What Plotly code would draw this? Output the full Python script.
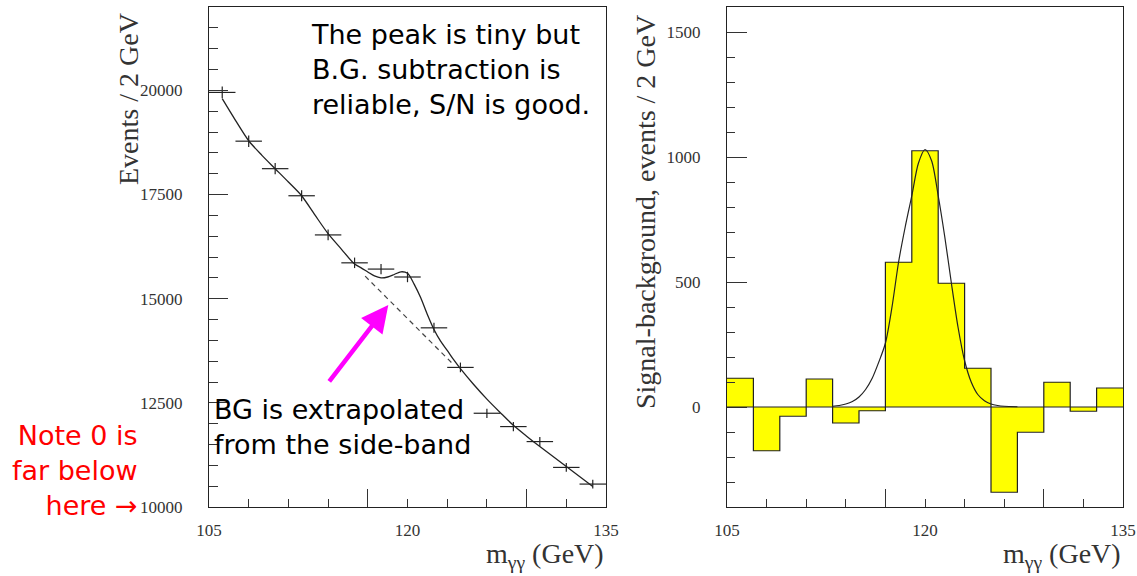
import plotly.graph_objects as go

# ---------------- data ----------------
# Left panel: diphoton mass spectrum, 2 GeV bins
mass_centers = [106, 108, 110, 112, 114, 116, 118, 120, 122, 124, 126, 128, 130, 132, 134]
bin_edges = [105, 107, 109, 111, 113, 115, 117, 119, 121, 123, 125, 127, 129, 131, 133, 135]
events = [19950, 18780, 18120, 17470, 16530, 15860, 15710, 15520, 14300, 13350, 12250, 11930, 11570, 10950, 10550]
events_err = [141, 137, 135, 132, 129, 126, 125, 125, 120, 116, 111, 109, 108, 105, 103]
bin_half_width = 1.0

# fitted signal + background curve (solid)
fit_x = [106, 107, 108, 109, 110, 111, 112, 113, 114, 115, 116, 116.5, 117, 117.5, 118, 118.5,
         119, 119.5, 120, 120.5, 121, 121.5, 122, 122.5, 123, 123.5, 124, 125, 126, 127, 128,
         129, 130, 131, 132, 133, 134]
fit_y = [19800, 19280, 18790, 18440, 18120, 17800, 17470, 17010, 16560, 16190, 15830, 15740,
         15640, 15545, 15500, 15520, 15580, 15645, 15610, 15350, 15020, 14620, 14260, 13980,
         13760, 13530, 13320, 12940, 12590, 12270, 11960, 11700, 11450, 11210, 10970, 10730, 10490]

# background extrapolated under the peak (dashed)
bg_x = [116.8, 118, 120, 122, 123.5]
bg_y = [15540, 15160, 14525, 13890, 13410]

# Right panel: signal - background histogram
sub_values = [115, -175, -37, 112, -64, -15, 579, 1025, 495, 155, -341, -101, 99, -17, 76]
# fitted gaussian of the signal
sig_x = [113, 113.5, 114, 114.5, 115, 115.5, 116, 116.5, 117, 117.5, 118, 118.5, 119, 119.5,
         120, 120.5, 121, 121.5, 122, 122.5, 123, 123.5, 124, 124.5, 125, 125.5, 126, 127]
sig_y = [3, 6, 12, 22, 40, 70, 115, 180, 255, 400, 580, 720, 845, 975, 1030, 985, 845, 680,
         495, 320, 185, 100, 50, 25, 12, 6, 3, 1]

# axis ticks
x_ticks = [105, 120, 135]
x_long_ticks = [117, 129]
left_y_ticks = [10000, 12500, 15000, 17500, 20000]
right_y_ticks = [0, 500, 1000, 1500]

W, H = 1137, 576
INK = "#222222"
SERIF = "Liberation Serif, Times New Roman, serif"
SANS = "DejaVu Sans, Verdana, sans-serif"


def px(xp):
    return xp / W


def py(yp):
    return 1 - yp / H


fig = go.Figure()

# data crosses
fig.add_trace(go.Scatter(
    x=mass_centers, y=events, mode="markers",
    marker=dict(size=1, color="rgba(0,0,0,0)"),
    error_x=dict(type="constant", value=bin_half_width, width=0, thickness=1.2, color=INK),
    error_y=dict(type="data", array=events_err, width=0, thickness=1.2, color=INK),
    xaxis="x", yaxis="y", showlegend=False, hoverinfo="skip"))

# fit curve
fig.add_trace(go.Scatter(
    x=fit_x, y=fit_y, mode="lines",
    line=dict(color=INK, width=1.3, shape="spline", smoothing=0.8),
    xaxis="x", yaxis="y", showlegend=False, hoverinfo="skip"))

# background dashed
fig.add_trace(go.Scatter(
    x=bg_x, y=bg_y, mode="lines",
    line=dict(color="#444444", width=1.2, dash="5px,4px"),
    xaxis="x", yaxis="y", showlegend=False, hoverinfo="skip"))

# histogram fill
fig.add_trace(go.Bar(
    x=mass_centers, y=sub_values, width=2,
    marker=dict(color="#ffff00", line=dict(width=0)),
    xaxis="x2", yaxis="y2", showlegend=False, hoverinfo="skip"))

# histogram step outline
fig.add_trace(go.Scatter(
    x=bin_edges, y=sub_values + sub_values[-1:], mode="lines",
    line=dict(color=INK, width=1.2, shape="hv"),
    xaxis="x2", yaxis="y2", showlegend=False, hoverinfo="skip"))

# gaussian fit
fig.add_trace(go.Scatter(
    x=sig_x, y=sig_y, mode="lines",
    line=dict(color=INK, width=1.2, shape="spline", smoothing=0.8),
    xaxis="x2", yaxis="y2", showlegend=False, hoverinfo="skip"))

# invisible traces to carry the long-tick overlay axes
fig.add_trace(go.Scatter(x=[None], y=[None], xaxis="x3", yaxis="y", showlegend=False, hoverinfo="skip"))
fig.add_trace(go.Scatter(x=[None], y=[None], xaxis="x4", yaxis="y2", showlegend=False, hoverinfo="skip"))

ydom = [py(507), py(7)]
tickfont = dict(family=SERIF, size=17, color="#333333")

common_x = dict(range=[105, 135], showgrid=False, zeroline=False, showline=True,
                linecolor=INK, linewidth=1.3, mirror=True, ticks="inside",
                tickvals=x_ticks, ticktext=[str(v) for v in x_ticks],
                ticklen=8, tickcolor="#333333", tickwidth=1,
                minor=dict(tick0=105, dtick=3, ticks="inside", ticklen=8, tickcolor="#333333",
                           showgrid=False),
                tickfont=tickfont, ticklabelstandoff=7, automargin=False)
long_x = dict(range=[105, 135], showgrid=False, zeroline=False, showline=False,
              ticks="inside", tickvals=x_long_ticks, ticklen=18, tickcolor="#333333",
              showticklabels=False, side="bottom", automargin=False)

fig.update_layout(
    width=W, height=H,
    margin=dict(l=0, r=0, t=0, b=0, autoexpand=False),
    paper_bgcolor="white", plot_bgcolor="white",
    xaxis=dict(domain=[px(209), px(606)], anchor="y", **common_x),
    xaxis2=dict(domain=[px(727), px(1123)], anchor="y2", **common_x),
    xaxis3=dict(overlaying="x", anchor="y", **long_x),
    xaxis4=dict(overlaying="x2", anchor="y2", **long_x),
    yaxis=dict(domain=ydom, anchor="x", range=[10000, 22000], showgrid=False, zeroline=False,
               showline=True, linecolor=INK, linewidth=1.3, mirror=True, ticks="inside",
               tickvals=left_y_ticks, ticktext=[str(v) for v in left_y_ticks],
               ticklen=19, tickcolor="#333333",
               minor=dict(tick0=10000, dtick=500, ticks="inside", ticklen=9,
                          tickcolor="#333333", showgrid=False),
               tickfont=tickfont, ticklabelstandoff=22, automargin=False),
    yaxis2=dict(domain=ydom, anchor="x2", range=[-400, 1600], showgrid=False, zeroline=False,
                showline=True, linecolor=INK, linewidth=1.3, mirror=True, ticks="inside",
                tickvals=right_y_ticks, ticktext=[str(v) for v in right_y_ticks],
                ticklen=20, tickcolor="#333333",
                minor=dict(tick0=0, dtick=100, ticks="inside", ticklen=8,
                           tickcolor="#333333", showgrid=False),
                tickfont=tickfont, ticklabelstandoff=22, automargin=False),
    bargap=0,
    shapes=[dict(type="line", xref="x2 domain", x0=0, x1=1, yref="y2", y0=0, y1=0,
                 line=dict(color=INK, width=1.2), layer="above")],
)

annotations = []
# axis titles
annotations.append(dict(text="Events / 2 GeV", xref="paper", yref="paper", x=px(128), y=py(99),
                        xanchor="center", yanchor="middle", textangle=-90, showarrow=False,
                        font=dict(family=SERIF, size=28, color="#333333")))
annotations.append(dict(text="Signal-background, events / 2 GeV", xref="paper", yref="paper",
                        x=px(645), y=py(212), xanchor="center", yanchor="middle", textangle=-90,
                        showarrow=False, font=dict(family=SERIF, size=28, color="#333333")))
annotations.append(dict(text="m<sub>γγ</sub> (GeV)", xref="paper", yref="paper", x=px(606),
                        y=py(555), xanchor="right", yanchor="middle", showarrow=False,
                        font=dict(family=SERIF, size=28, color="#333333")))
annotations.append(dict(text="m<sub>γγ</sub> (GeV)", xref="paper", yref="paper", x=px(1123),
                        y=py(555), xanchor="right", yanchor="middle", showarrow=False,
                        font=dict(family=SERIF, size=28, color="#333333")))
# commentary
annotations.append(dict(text="The peak is tiny but<br>B.G. subtraction is<br>reliable, S/N is good.",
                        xref="paper", yref="paper", x=px(309), y=py(17), xanchor="left",
                        yanchor="top", align="left", showarrow=False,
                        font=dict(family=SANS, size=27, color="black")))
annotations.append(dict(text="BG is extrapolated<br>from the side-band",
                        xref="paper", yref="paper", x=px(212), y=py(392), xanchor="left",
                        yanchor="top", align="left", showarrow=False,
                        font=dict(family=SANS, size=27, color="black")))
annotations.append(dict(text="Note 0 is<br>far below<br>here →",
                        xref="paper", yref="paper", x=px(140), y=py(418), xanchor="right",
                        yanchor="top", align="right", showarrow=False,
                        font=dict(family=SANS, size=27, color="#ff0000")))
# magenta arrow
annotations.append(dict(text="", x=118.55, y=14850, xref="x", yref="y",
                        ax=114.0, ay=12980, axref="x", ayref="y", showarrow=True,
                        arrowhead=2, arrowsize=1.2, arrowwidth=4.5, arrowcolor="#ff00ff"))
fig.update_layout(annotations=annotations)

fig.write_html("out.html")
